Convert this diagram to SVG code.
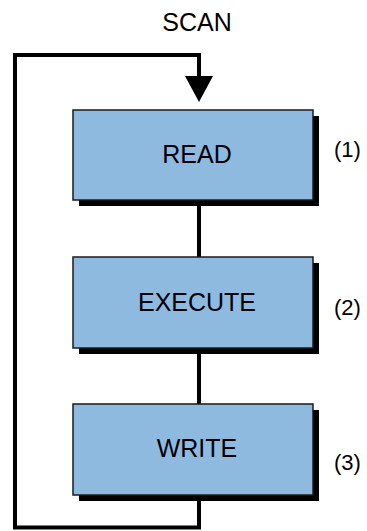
<svg xmlns="http://www.w3.org/2000/svg" width="367" height="531" viewBox="0 0 367 531">
<style>
.box{fill:#8FBAE0;stroke:#1a1a1a;stroke-width:1.5}
.shadow{fill:#000}
.lbl{font-family:"Liberation Sans",Arial,sans-serif;font-size:25px;fill:#000;text-anchor:middle}
.num{font-family:"Liberation Sans",Arial,sans-serif;font-size:22px;fill:#000}
.wire{fill:none;stroke:#000;stroke-width:4}
</style>
<rect width="367" height="531" fill="#fff"/>
<text class="lbl" x="197" y="31">SCAN</text>
<g id="connectors">
<path class="wire" d="M199,80 V55 H15 V527.5 H199 V495"/>
<path class="wire" d="M199,200 V257"/>
<path class="wire" d="M199,348 V404"/>
<polygon points="185,76 213,76 199,102" fill="#000"/>
</g>
<g id="read">
<rect class="shadow" x="79" y="116" width="240" height="90"/>
<rect class="box" x="73" y="110" width="240" height="90"/>
<text class="lbl" x="197" y="163">READ</text>
</g>
<g id="execute">
<rect class="shadow" x="79" y="263" width="240" height="91"/>
<rect class="box" x="73" y="257" width="240" height="91"/>
<text class="lbl" x="197" y="311">EXECUTE</text>
</g>
<g id="write">
<rect class="shadow" x="79" y="410" width="240" height="91"/>
<rect class="box" x="73" y="404" width="240" height="91"/>
<text class="lbl" x="197" y="457">WRITE</text>
</g>
<text class="num" x="334" y="157">(1)</text>
<text class="num" x="334" y="315">(2)</text>
<text class="num" x="334" y="470">(3)</text>
</svg>
